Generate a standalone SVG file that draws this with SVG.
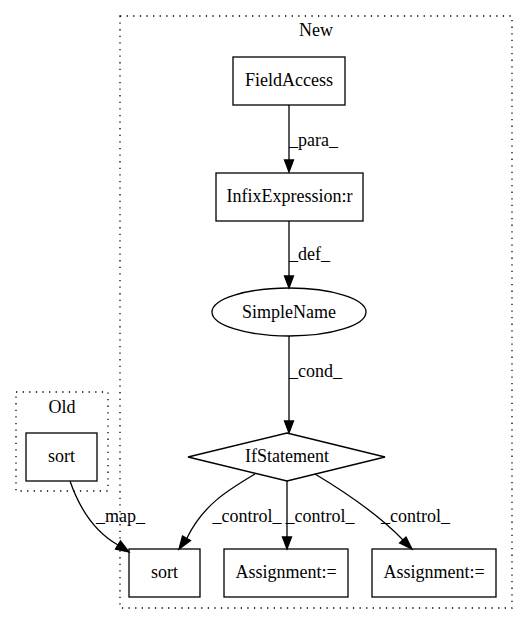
<svg xmlns="http://www.w3.org/2000/svg" width="528" height="624" viewBox="0 0 528 624">
<style>
  text { font-family: "Liberation Serif", "Times New Roman", serif; font-size: 18px; fill: #000; }
  .node { fill: none; stroke: #000; stroke-width: 1.3; }
  .cluster { fill: none; stroke: #000; stroke-width: 1.3; stroke-dasharray: 1.3,5.3; }
  .edge { fill: none; stroke: #000; stroke-width: 1.3; }
  .head { fill: #000; stroke: #000; stroke-width: 1.3; }
</style>
<rect width="528" height="624" fill="#fff"/>

<g id="cluster_old">
  <rect class="cluster" x="16" y="392" width="92" height="99"/>
  <text x="62" y="413" text-anchor="middle">Old</text>
</g>
<g id="cluster_new">
  <rect class="cluster" x="120" y="16" width="392" height="592"/>
  <text x="316" y="36" text-anchor="middle">New</text>
</g>

<g id="old_sort">
  <rect class="node" x="26" y="433" width="71" height="48"/>
  <text x="61.5" y="462" text-anchor="middle">sort</text>
</g>
<g id="field_access">
  <rect class="node" x="233" y="57" width="112" height="48"/>
  <text x="289" y="86" text-anchor="middle">FieldAccess</text>
</g>
<g id="infix_expression">
  <rect class="node" x="216" y="173" width="147" height="48"/>
  <text x="289.5" y="202" text-anchor="middle">InfixExpression:r</text>
</g>
<g id="simple_name">
  <ellipse class="node" cx="289" cy="312" rx="77" ry="24"/>
  <text x="289" y="318" text-anchor="middle">SimpleName</text>
</g>
<g id="if_statement">
  <polygon class="node" points="287,433 385,457 287,481 188,457"/>
  <text x="287" y="462" text-anchor="middle">IfStatement</text>
</g>
<g id="new_sort">
  <rect class="node" x="129" y="549" width="71" height="48"/>
  <text x="164.5" y="578" text-anchor="middle">sort</text>
</g>
<g id="assignment_1">
  <rect class="node" x="224" y="549" width="124" height="48"/>
  <text x="286" y="578" text-anchor="middle">Assignment:=</text>
</g>
<g id="assignment_2">
  <rect class="node" x="372" y="549" width="124" height="48"/>
  <text x="434" y="578" text-anchor="middle">Assignment:=</text>
</g>

<g id="connectors">
  <!-- FieldAccess -> InfixExpression -->
  <path class="edge" d="M289,105 L289,160"/>
  <polygon class="head" points="284.5,160 289,172 293.5,160"/>
  <text x="289" y="146">_para_</text>

  <!-- InfixExpression -> SimpleName -->
  <path class="edge" d="M289,221 L289,276"/>
  <polygon class="head" points="284.5,276 289,288 293.5,276"/>
  <text x="289" y="260">_def_</text>

  <!-- SimpleName -> IfStatement -->
  <path class="edge" d="M289,336 L289,421"/>
  <polygon class="head" points="284.5,421 289,433 293.5,421"/>
  <text x="289" y="377">_cond_</text>

  <!-- IfStatement -> sort -->
  <path class="edge" d="M255,474 C228,490 203,505 187,538"/>
  <polygon class="head" points="182.5,536 179,549 190.5,540.5"/>
  <text x="212.5" y="522">_control_</text>

  <!-- IfStatement -> Assignment 1 -->
  <path class="edge" d="M287,481 L287,537"/>
  <polygon class="head" points="282.5,537 287,549 291.5,537"/>
  <text x="285.5" y="522">_control_</text>

  <!-- IfStatement -> Assignment 2 -->
  <path class="edge" d="M315,474 C345,492 378,514 403,540"/>
  <polygon class="head" points="399.5,543 412,549 406,537"/>
  <text x="381" y="522">_control_</text>

  <!-- old sort -> new sort -->
  <path class="edge" d="M70,481 C80,510 95,532 118,545"/>
  <polygon class="head" points="115.5,549 129,552 120.5,541"/>
  <text x="96" y="522">_map_</text>
</g>
</svg>
